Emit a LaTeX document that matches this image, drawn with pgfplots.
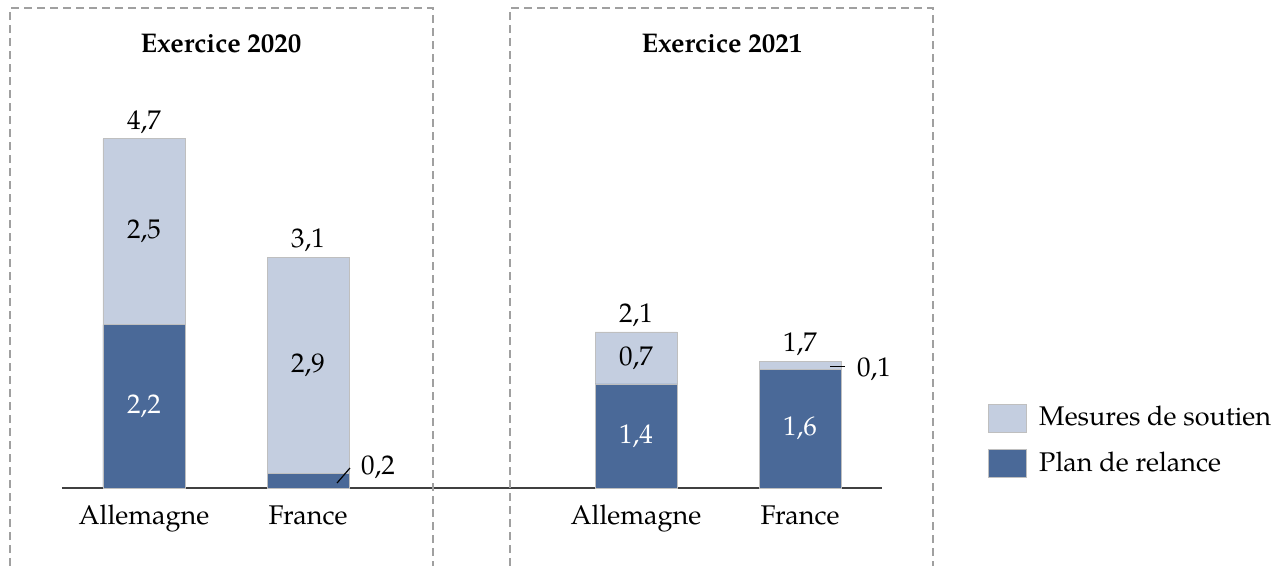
\documentclass[border=0pt]{standalone}
\usepackage{pgfplots}
\pgfplotsset{compat=1.18}
\usepackage{fontspec}
\setmainfont{TeX Gyre Pagella}
\definecolor{darkb}{HTML}{4A6998}
\definecolor{lightb}{HTML}{C4CEE0}
\definecolor{boxg}{HTML}{A0A0A0}
\definecolor{axg}{HTML}{404040}
\begin{document}
\fontsize{13.5}{16}\selectfont
\begin{tikzpicture}
\useasboundingbox (-31pt,-39pt) rectangle (608.5pt,244pt);
\begin{axis}[
  at={(0,0)}, anchor=south west,
  x=82pt, y=37.15pt,
  xmin=-0.5, xmax=4.5, ymin=0, ymax=6.46,
  ybar stacked, bar width=41pt,
  axis x line=bottom, axis y line=none,
  axis line style={-, draw=axg, line width=0.6pt},
  xtick={0,1,3,4}, xticklabels={Allemagne,France,Allemagne,France},
  major tick length=0pt,
  xticklabel style={yshift=-4pt, font=\fontsize{13.5}{16}\selectfont},
  clip=false,
  reverse legend,
  legend style={at={(1.1293,0.0979)}, anchor=west, draw=none, fill=none,
    inner sep=0pt, row sep=7pt, font=\fontsize{13.5}{16}\selectfont,
    cells={anchor=west}},
  legend image code/.code={\draw[#1] (0pt,-7pt) rectangle (19pt,7pt); \path (23pt,0pt);},
]
\addplot[fill=darkb, draw=black!25, line width=0.4pt] coordinates {(0,2.2) (1,0.2) (3,1.4) (4,1.6)};
\addlegendentry{Plan de relance}
\addplot[fill=lightb, draw=black!25, line width=0.4pt] coordinates {(0,2.5) (1,2.9) (3,0.7) (4,0.1)};
\addlegendentry{Mesures de soutien}

% dashed group frames
\draw[boxg, line width=1pt, dash pattern=on 4pt off 2.5pt]
  (axis cs:-0.817,-1.05) -- (axis cs:-0.817,6.46) -- (axis cs:1.762,6.46) -- (axis cs:1.762,-1.05);
\draw[boxg, line width=1pt, dash pattern=on 4pt off 2.5pt]
  (axis cs:2.232,-1.05) -- (axis cs:2.232,6.46) -- (axis cs:4.811,6.46) -- (axis cs:4.811,-1.05);

% titles
\node[font=\fontsize{13.5}{16}\selectfont\bfseries] at (axis cs:0.47,5.976) {Exercice 2020};
\node[font=\fontsize{13.5}{16}\selectfont\bfseries] at (axis cs:3.524,5.976) {Exercice 2021};

% anchor points for labels drawn over the bars
\coordinate (t1) at (axis cs:0,4.7);
\coordinate (t2) at (axis cs:1,3.1);
\coordinate (t3) at (axis cs:3,2.1);
\coordinate (t4) at (axis cs:4,1.7);
\coordinate (s1) at (axis cs:0,1.1);
\coordinate (s2) at (axis cs:0,3.45);
\coordinate (s3) at (axis cs:1,1.65);
\coordinate (s4) at (axis cs:3,0.7);
\coordinate (s5) at (axis cs:3,1.75);
\coordinate (s6) at (axis cs:4,0.8);
\coordinate (la) at (axis cs:1.177,0.067);
\coordinate (lb) at (axis cs:1.256,0.269);
\coordinate (lc) at (axis cs:1.427,0.283);
\coordinate (ld) at (axis cs:4.183,1.63);
\coordinate (le) at (axis cs:4.274,1.63);
\coordinate (lf) at (axis cs:4.451,1.60);
\end{axis}
% totals
\node at (t1) [yshift=8.5pt] {4,7};
\node at (t2) [yshift=8.5pt] {3,1};
\node at (t3) [yshift=8.5pt] {2,1};
\node at (t4) [yshift=8.5pt] {1,7};
% segment labels
\node[white] at (s1) {2,2};
\node at (s2) {2,5};
\node at (s3) {2,9};
\node[white] at (s4) {1,4};
\node at (s5) {0,7};
\node[white] at (s6) {1,6};
% small segments with leader lines
\draw[black, line width=0.6pt] (la) -- (lb);
\node at (lc) {0,2};
\draw[black, line width=0.6pt] (ld) -- (le);
\node at (lf) {0,1};
\end{tikzpicture}
\end{document}
